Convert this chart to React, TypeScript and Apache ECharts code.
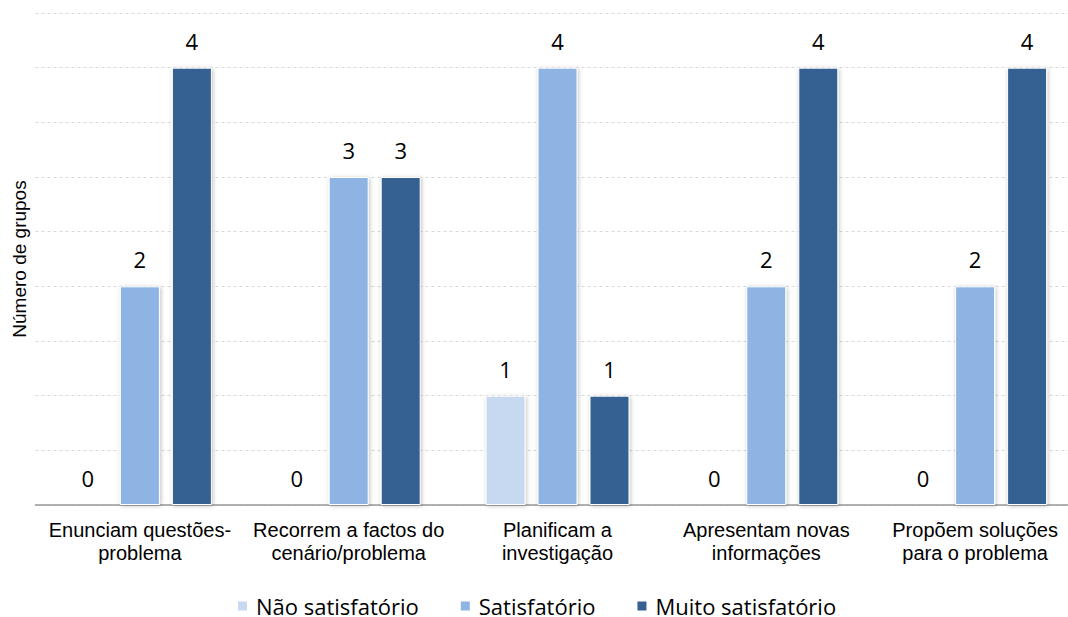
import React, { useEffect, useRef } from "react";
import * as echarts from "echarts";

const categories = [
  "Enunciam questões-\nproblema",
  "Recorrem a factos do\ncenário/problema",
  "Planificam a\ninvestigação",
  "Apresentam novas\ninformações",
  "Propõem soluções\npara o problema",
];
const naoSatisfatorio = [0, 0, 1, 0, 0];
const satisfatorio = [2, 3, 4, 2, 2];
const muitoSatisfatorio = [4, 3, 1, 4, 4];
const seriesNames = ["Não satisfatório", "Satisfatório", "Muito satisfatório"];
const colors = ["#c6d9f1", "#8eb4e3", "#366092"];

export default function App() {
  const ref = useRef<HTMLDivElement>(null);
  useEffect(() => {
    if (!ref.current) return;
    const chart = echarts.init(ref.current, null, { renderer: "svg" });
    const labelFont = "'Open Sans', sans-serif";
    const arial = "'Liberation Sans', Arial, sans-serif";
    const mk = (name: string, data: number[], color: string) => ({
      name,
      type: "bar",
      data,
      barWidth: 40,
      barGap: "30%",
      itemStyle: {
        color,
        borderColor: "#ffffff",
        borderWidth: 1,
        shadowBlur: 4,
        shadowColor: "rgba(0,0,0,0.25)",
        shadowOffsetX: 1,
        shadowOffsetY: 1,
      },
      label: {
        show: true,
        position: "top",
        distance: 16,
        color: "#000",
        fontSize: 22,
        fontFamily: labelFont,
      },
    });
    chart.setOption({
      animation: false,
      color: colors,
      grid: { left: 35.5, top: 13, width: 1044, height: 492, containLabel: false },
      legend: {
        top: 595,
        left: 236,
        itemWidth: 11,
        itemHeight: 11,
        itemGap: 40,
        padding: 0,
        icon: "rect",
        textStyle: {
          fontSize: 22,
          lineHeight: 16,
          color: "#000",
          fontFamily: labelFont,
          padding: [0, 0, 0, 3],
        },
        data: seriesNames,
      },
      xAxis: {
        type: "category",
        data: categories,
        axisTick: { show: false },
        axisLine: { lineStyle: { color: "#999", width: 1.5 } },
        axisLabel: {
          color: "#000",
          fontSize: 20,
          lineHeight: 23,
          fontFamily: arial,
          margin: 13,
          interval: 0,
        },
      },
      yAxis: {
        type: "value",
        min: 0,
        max: 4.5,
        interval: 0.5,
        name: "Número de grupos",
        nameLocation: "middle",
        nameGap: 7,
        nameTextStyle: { color: "#000", fontSize: 19, fontFamily: arial },
        axisLabel: { show: false },
        axisLine: { show: false },
        axisTick: { show: false },
        splitLine: { lineStyle: { color: "#d9d9d9", type: [3, 3] } },
      },
      series: [
        mk(seriesNames[0], naoSatisfatorio, colors[0]),
        mk(seriesNames[1], satisfatorio, colors[1]),
        mk(seriesNames[2], muitoSatisfatorio, colors[2]),
      ],
    });
    return () => chart.dispose();
  }, []);
  return (
    <div
      style={{
        position: "fixed",
        left: 0,
        top: 0,
        width: 1068,
        height: 617,
        overflow: "hidden",
        background: "#fff",
      }}
    >
      <div ref={ref} style={{ width: 1100, height: 617 }} />
    </div>
  );
}
